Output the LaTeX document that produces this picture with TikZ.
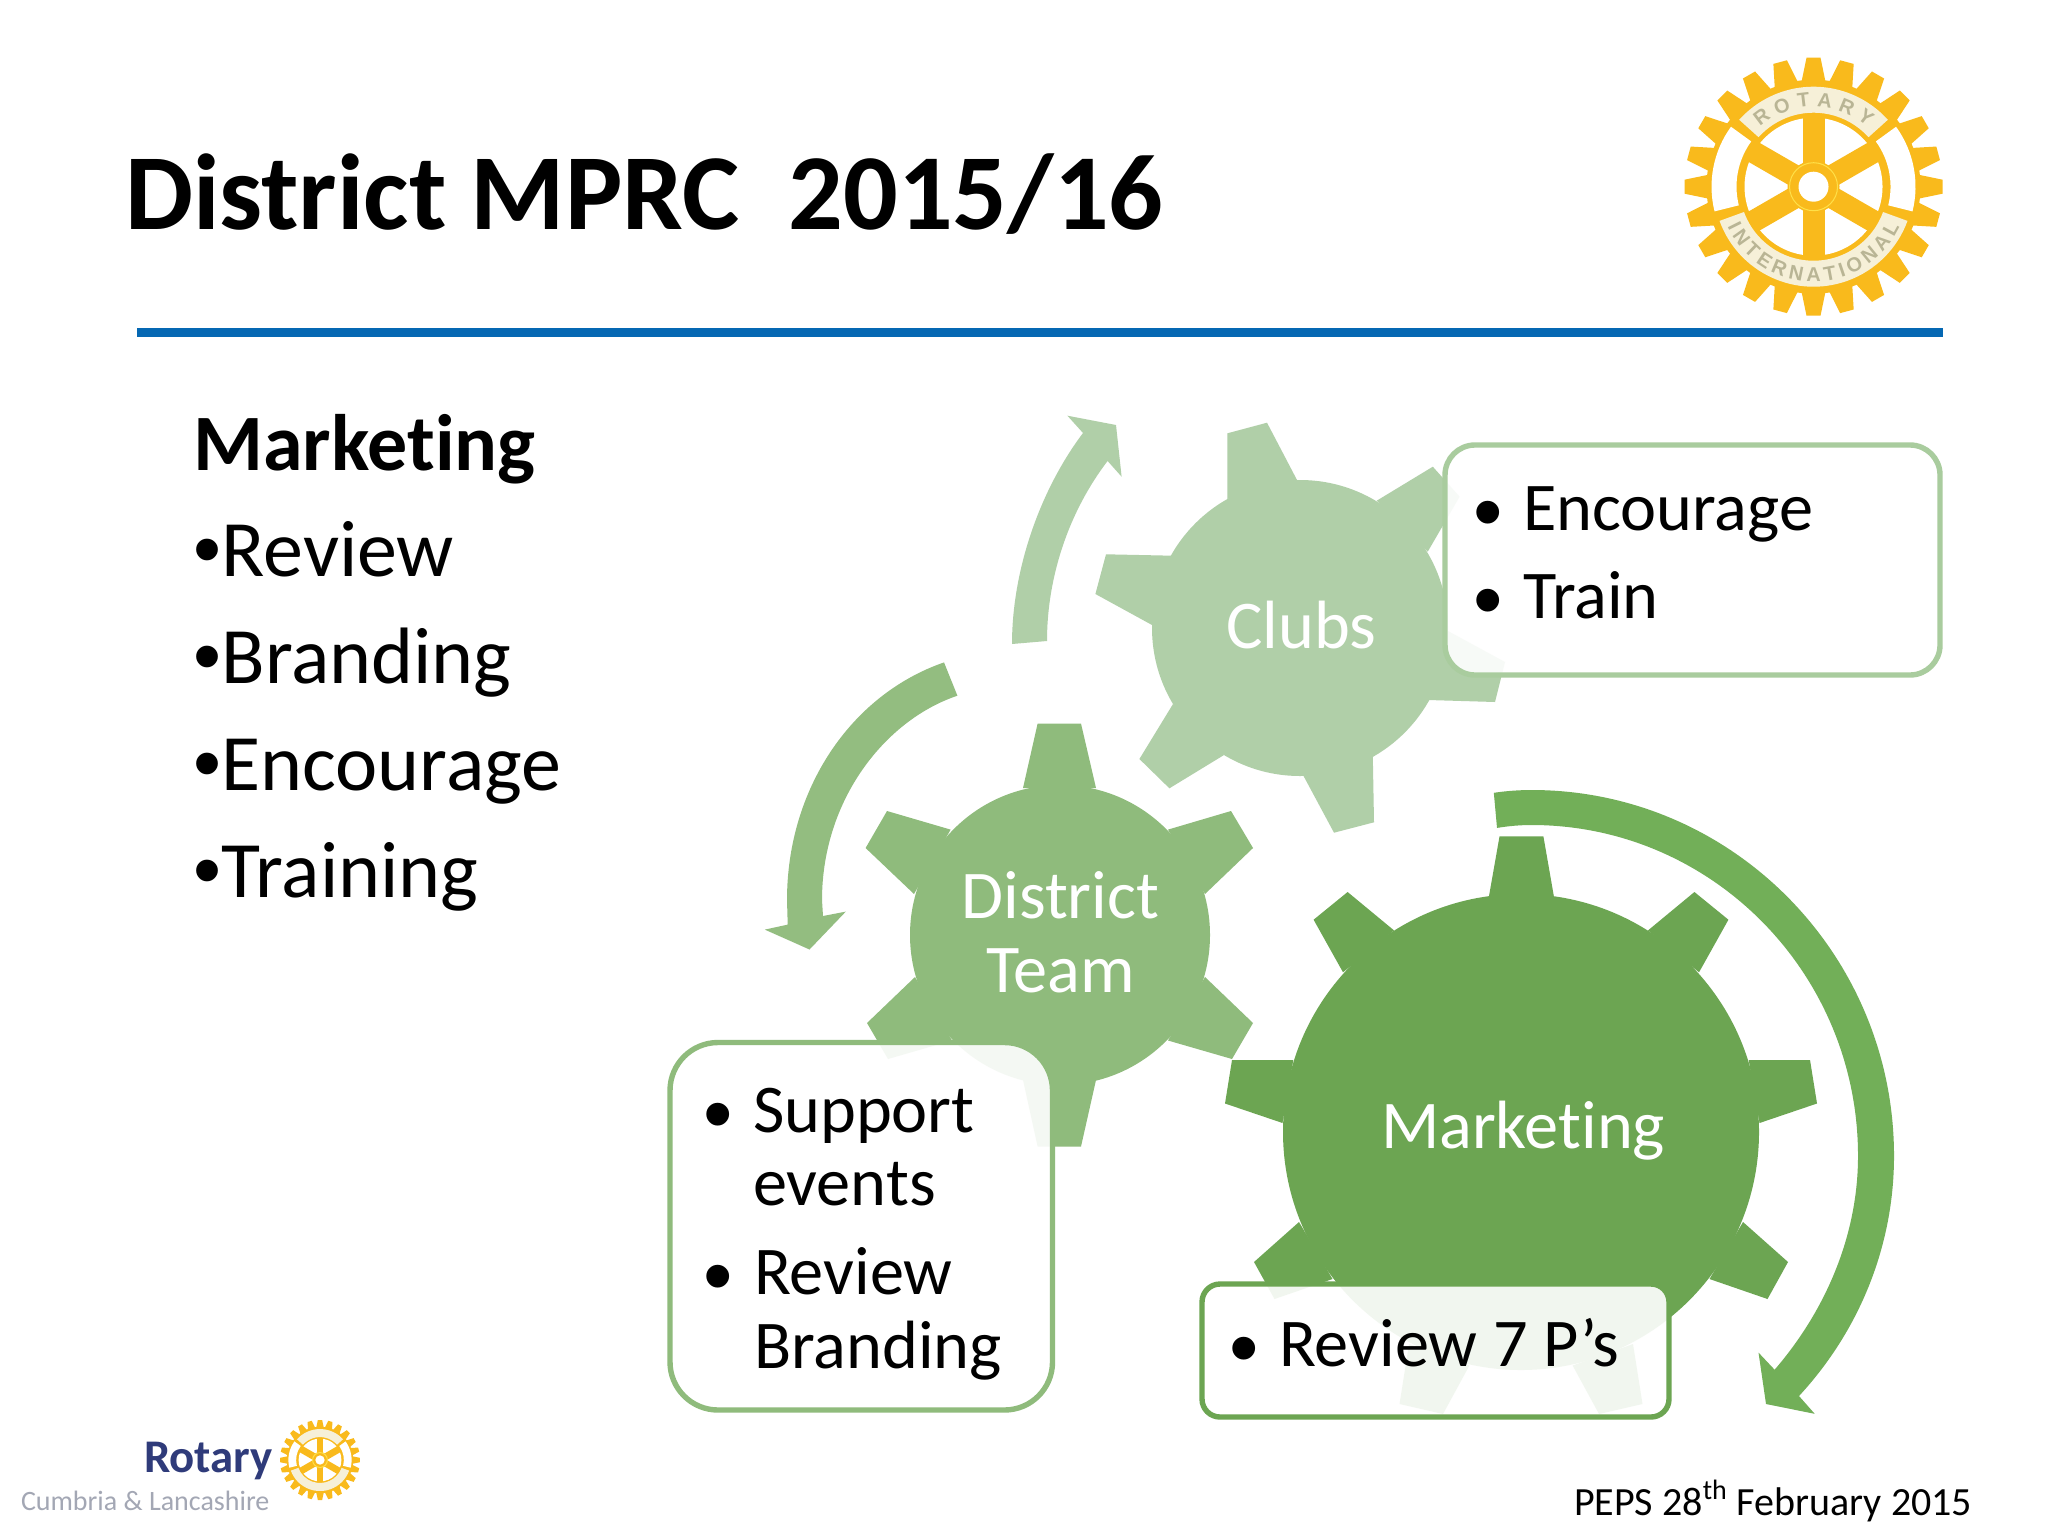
\documentclass[tikz,border=0pt]{standalone}
\usepackage{fontspec}
\setmainfont[Ligatures={NoCommon}]{Carlito}
\setsansfont{Liberation Sans}
\usetikzlibrary{decorations.text}
\definecolor{clubgreen}{HTML}{B0CFA8}
\definecolor{distgreen}{HTML}{8FBB7C}
\definecolor{markgreen}{HTML}{6CA552}
\definecolor{markarrow}{HTML}{72AF58}
\definecolor{distarrow}{HTML}{93BD80}
\definecolor{clubline}{HTML}{A9CC9E}
\definecolor{distline}{HTML}{8FBB7C}
\definecolor{markline}{HTML}{6CA552}
\definecolor{rulecol}{HTML}{0568B3}
\definecolor{gold}{HTML}{F9BA1C}
\definecolor{bandpale}{HTML}{F6F0D8}
\definecolor{ringyellow}{HTML}{FFE048}
\definecolor{logotext}{HTML}{B9B595}
\definecolor{rotarynavy}{HTML}{2F3B7A}
\definecolor{cumbriagrey}{HTML}{A3A7B4}
\tikzset{
  txt/.style={anchor=base west,inner sep=0pt,outer sep=0pt},
  ctxt/.style={anchor=base,inner sep=0pt,outer sep=0pt,text=white,font=\fontsize{34.15}{34.15}\selectfont},
  titlefont/.style={font=\fontsize{54}{54}\selectfont\bfseries},
  listtxt/.style={txt,font=\fontsize{40}{40}\selectfont},
  boxtxt/.style={txt,font=\fontsize{34.15}{34.15}\selectfont},
  bullettxt/.style={txt,font=\sffamily\fontsize{42}{42}\selectfont},
  callout/.style={fill=white,fill opacity=0.91,line width=2.7pt},
}
\newcommand{\listbullet}{{\sffamily •}}
\newcommand{\rotarywheel}{%
  \fill[gold] (0,0) circle[radius=107];
  \foreach \a in {0,15,...,345}{
    \fill[gold,rotate=\a,line join=round] (100,-13) -- (129,-7) -- (129,7) -- (100,13) -- cycle;
  }
  \fill[bandpale] (42:100) arc (42:138:100) -- (138:74) arc (138:42:74) -- cycle;
  \fill[bandpale] (200:100) arc (200:340:100) -- (340:74) arc (340:200:74) -- cycle;
  \fill[white] (144:102) arc (144:194:102) -- (194:77) arc (194:144:77) -- cycle;
  \fill[white] (36:102) arc (36:-14:102) -- (-14:77) arc (-14:36:77) -- cycle;
  \fill[white] (0,0) circle[radius=69];
  \foreach \a in {30,90,150}{
    \fill[gold,rotate=\a] (-72,-11) rectangle (72,11);
  }
  \fill[gold] (0,0) circle[radius=26];
  \draw[ringyellow,line width=0.5pt] (0,0) circle[radius=24];
  \fill[white] (0,0) circle[radius=15];
}
\begin{document}
\begin{tikzpicture}[x=0.5pt,y=-0.5pt]
\useasboundingbox (0,0) rectangle (2048,1536);
\fill[white] (0,0) rectangle (2048,1536);

% title and rule
\node[txt,titlefont] (title) at (125,229) {District MPRC\ \ 2015/16};
\fill[rulecol] (137,328) rectangle (1943,336.5);

% big logo
\begin{scope}[shift={(1813.5,186.7)},x=0.5pt,y=0.5pt]
  \rotarywheel
  \path[decorate,decoration={text along path,text align={fit to path},
    text={|\sffamily\bfseries\fontsize{10}{10}\selectfont\color{logotext}|ROTARY}}]
    (132:80) arc (132:48:80);
  \path[decorate,decoration={text along path,text align={fit to path},
    text={|\sffamily\bfseries\fontsize{10}{10}\selectfont\color{logotext}|INTERNATIONAL}}]
    (205:95) arc (205:335:95);
\end{scope}

% small logo
\begin{scope}[shift={(320,1460)},x=0.155pt,y=0.155pt]
  \rotarywheel
\end{scope}
\node[txt,text=rotarynavy,font=\fontsize{23.4}{23.4}\selectfont\bfseries] (rotary) at (144,1472) {Rotary};
\node[txt,text=cumbriagrey,font=\fontsize{14}{14}\selectfont] (cumbria) at (21,1510) {Cumbria \& Lancashire};

% left list
\node[listtxt,font=\fontsize{40}{40}\selectfont\bfseries] (l0) at (193.5,470) {Marketing};
\node[listtxt] (l1) at (193.5,576) {\listbullet Review};
\node[listtxt] (l2) at (193.5,683) {\listbullet Branding};
\node[listtxt] (l3) at (193.5,790) {\listbullet Encourage};
\node[listtxt] (l4) at (193.5,897) {\listbullet Training};

% Clubs gear
\begin{scope}[clubgreen]
\fill (1300,628) circle[radius=148];
\fill (1227.4,499) -- (1227.4,433.3) -- (1267,422.7) -- (1297,480) -- cycle;
\fill (1376.7,500.7) -- (1432.8,466.7) -- (1459.6,496.7) -- (1427.7,551.7) -- cycle;
\fill (1448,631) -- (1505,662) -- (1495,702) -- (1428,700) -- cycle;
\fill (1372.8,756) -- (1374,822.3) -- (1334,832.7) -- (1303,775) -- cycle;
\fill (1224,755) -- (1169.4,788.3) -- (1139.4,759) -- (1173,704) -- cycle;
\fill (1152,625) -- (1095.4,594) -- (1106,554.3) -- (1172.6,555.7) -- cycle;
% Clubs arrow
\fill (1012,644) .. controls (1012,570) and (1040,490) .. (1083,433)
  -- (1067.4,415.7) -- (1116,425) -- (1121.6,476.7) -- (1107.6,461)
  .. controls (1070,510) and (1047,575) .. (1047,641) -- cycle;
\end{scope}

% District gear
\begin{scope}[distgreen]
\fill (1060,935) circle[radius=150];
\fill (1023,788) -- (1037.6,723.6) -- (1081,723.6) -- (1096,788) -- cycle;
\fill (1168,829.6) -- (1231,811) -- (1253,848) -- (1205,894) -- cycle;
\fill (1205,977) -- (1253,1023) -- (1232,1059) -- (1168,1040.5) -- cycle;
\fill (1096,1080) -- (1081,1146.5) -- (1037.6,1146.5) -- (1023,1080) -- cycle;
\fill (952,1040.5) -- (888,1059) -- (867,1023) -- (915,977) -- cycle;
\fill (914,894) -- (865.6,848) -- (887,811) -- (950.6,829.6) -- cycle;
\end{scope}
% District arrow
\fill[distarrow] (944,662.4) .. controls (850,695) and (787,790) .. (787,900)
  -- (787.7,924.6) -- (764.8,929.6) -- (809.5,949.5) -- (845.8,911.6) -- (823,916) -- (822,900)
  .. controls (822,800) and (885,720) .. (957.4,695.7) -- cycle;

% Marketing gear
\begin{scope}[markgreen]
\fill (1521,1132) circle[radius=238];
\fill (1489,896) -- (1499.5,836.4) -- (1543.4,836.4) -- (1553.8,896) -- cycle;
\fill (1648,930.4) -- (1694.4,892) -- (1728.4,919.7) -- (1699,972.3) -- cycle;
\fill (1748.7,1060) -- (1810,1060) -- (1817,1103.5) -- (1759.5,1123) -- cycle;
\fill (1743,1222) -- (1788,1262) -- (1767.5,1299) -- (1709.5,1279) -- cycle;
\fill (1633,1344) -- (1642.5,1404) -- (1599,1414) -- (1572.6,1365.5) -- cycle;
\fill (1409,1344) -- (1399.5,1404) -- (1443,1414) -- (1469.4,1365.5) -- cycle;
\fill (1299,1222) -- (1254,1262) -- (1274.5,1299) -- (1332.5,1279) -- cycle;
\fill (1293.3,1060) -- (1232,1060) -- (1225,1103.5) -- (1282.5,1123) -- cycle;
\fill (1394,930.4) -- (1347.6,892) -- (1313.6,919.7) -- (1343,972.3) -- cycle;
\end{scope}
% Marketing arrow
\fill[markarrow] (1493.8,792.8) .. controls (1506,791) and (1519,790) .. (1531.6,790)
  .. controls (1731.5,790) and (1894,953.9) .. (1894,1156)
  .. controls (1894,1245) and (1860,1330) .. (1799,1396)
  -- (1814.7,1413.8) -- (1766,1404) -- (1758.5,1352.6) -- (1774.6,1369.7)
  .. controls (1826,1310) and (1858,1235) .. (1858,1156)
  .. controls (1858,973) and (1711.6,825) .. (1531.6,825)
  .. controls (1520,825) and (1509,826) .. (1497,827.9) -- cycle;

% callouts
\draw[callout,draw=clubline,rounded corners=15pt] (1445,445) rectangle (1940,675);
\draw[callout,draw=distline,rounded corners=24pt] (670,1042.5) rectangle (1052.5,1410);
\draw[callout,draw=markline,rounded corners=9pt] (1202,1284) rectangle (1669,1417);

% gear labels
\node[ctxt] (clubs) at (1301.5,648.7) {Clubs};
\node[ctxt] (dist1) at (1060.3,918) {District};
\node[ctxt] (dist2) at (1060.7,992.7) {Team};
\node[ctxt] (mark) at (1523,1148) {Marketing};

% callout text
\node[bullettxt] (b1) at (1473,540) {•};
\node[boxtxt] (t1) at (1523,530) {Encourage};
\node[bullettxt] (b2) at (1473,628) {•};
\node[boxtxt] (t2) at (1523,618) {Train};

\node[bullettxt] (b3) at (703,1142) {•};
\node[boxtxt] (t3) at (753,1132) {Support};
\node[boxtxt] (t4) at (753,1205.7) {events};
\node[bullettxt] (b4) at (703,1304.7) {•};
\node[boxtxt] (t5) at (754,1294.7) {Review};
\node[boxtxt] (t6) at (754,1368.4) {Branding};

\node[bullettxt] (b5) at (1229,1376.6) {•};
\node[boxtxt] (t7) at (1279,1366.6) {Review 7 P’s};

% footer
\node[txt,font=\fontsize{20}{20}\selectfont] (foot) at (1574,1515) {PEPS 28\textsuperscript{th} February 2015};
\end{tikzpicture}
\end{document}
